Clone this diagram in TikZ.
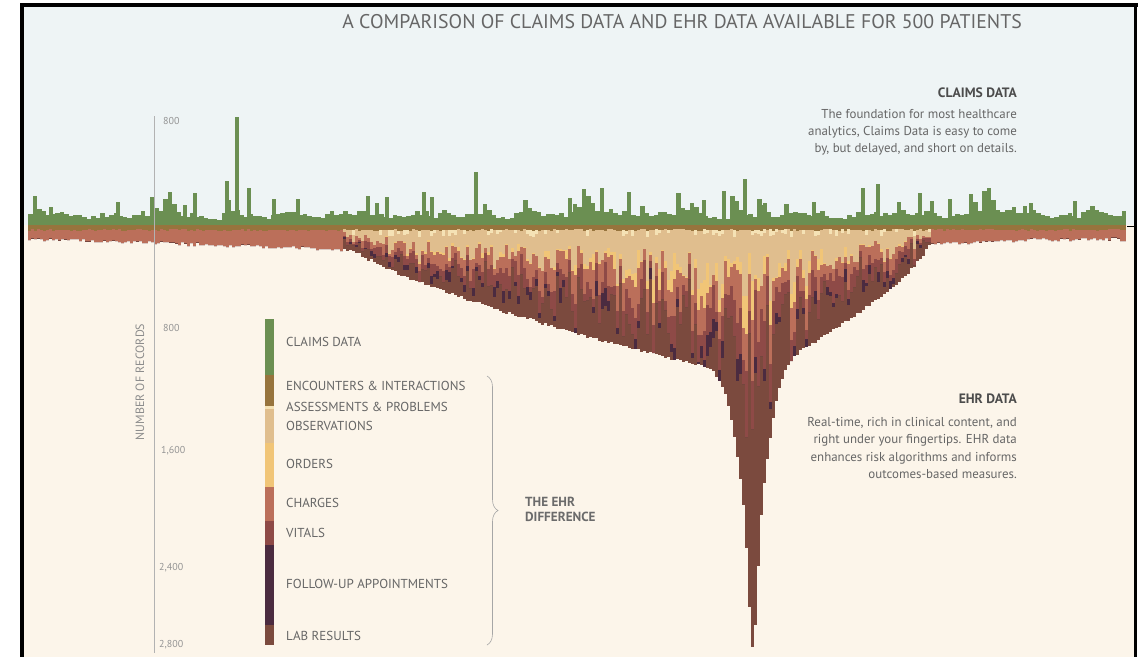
\documentclass[tikz,border=0pt]{standalone}
\usepackage{fontspec}
\setmainfont{PT Sans}
\usetikzlibrary{decorations.pathreplacing}

\definecolor{skybg}{HTML}{EEF4F5}
\definecolor{creambg}{HTML}{FCF5EA}
\definecolor{claims}{HTML}{6B8F52}
\definecolor{encounter}{HTML}{97743D}
\definecolor{assess}{HTML}{F5E2B5}
\definecolor{observ}{HTML}{E0BE8E}
\definecolor{orders}{HTML}{F1C577}
\definecolor{charges}{HTML}{BB6F5A}
\definecolor{vitals}{HTML}{8E4A47}
\definecolor{followup}{HTML}{4B2B40}
\definecolor{labres}{HTML}{7B4A3E}

\tikzset{
  titletext/.style={anchor=east, inner sep=0pt, text=black!60, font=\fontsize{19.8}{22}\selectfont},
  headtext/.style={anchor=base east, inner sep=0pt, text=black!70, font=\bfseries\fontsize{13.6}{15}\selectfont},
  blurbtext/.style={anchor=base east, inner sep=0pt, text=black!60, font=\fontsize{12.9}{15}\selectfont},
  legtext/.style={anchor=west, inner sep=0pt, text=black!60, font=\fontsize{13}{15}\selectfont},
  ehrtext/.style={anchor=west, inner sep=0pt, text=black!58, font=\bfseries\fontsize{13.2}{15}\selectfont},
  ticktext/.style={anchor=west, inner sep=0pt, text=black!42, font=\fontsize{10}{11}\selectfont},
  axistext/.style={inner sep=0pt, rotate=90, text=black!45, font=\fontsize{12}{13}\selectfont},
}

\begin{document}
\begin{tikzpicture}[x=1pt,y=-1pt]
  \useasboundingbox (0,0) rectangle (1138,657);
  \fill[white] (0,0) rectangle (1138,657);
  \fill[skybg]   (23,6) rectangle (1134,225);
  \fill[creambg] (23,225) rectangle (1134,657);

  % claims bars
  \pgfmathsetseed{11}
  \gdef\gprev{10}
  \foreach \i in {0,...,243}{
    \pgfmathsetmacro{\gh}{0.45*\gprev+0.55*(5+13*rnd^1.5)+(rnd<0.06)*(8+16*rnd)}
    \fill[claims] ({28+4.5*\i},225) rectangle ({32.6+4.5*\i},{225-\gh});
    \global\let\gprev\gh
  }
  \foreach \sx/\st in {51/207,118/202,185/205,195/193,227/181,237/117,249/188,274/199,298/199,
                       368/196,377/203,387/197,424/192,432/197,476/172,570/198,602/188,629/192,
                       704/200,724/191,745/179,765/203,814/202,863/188,878/184,920/193,932/201,
                       950/199,1014/207,1031/203,1075/201}
    \fill[claims] (\sx-2.3,225) rectangle (\sx+2.3,\st);

  % ehr columns
  \foreach \i in {0,...,365}{
    \pgfmathsetmacro{\xl}{28+3*\i}
    \pgfmathsetmacro{\xr}{\xl+3.05}
    \pgfmathsetmacro{\xm}{\xl+1.5}
    \pgfmathsetmacro{\uf}{\xm<752 ? (752-\xm)/410 : (\xm-752)/180}
    \pgfmathsetmacro{\isf}{\uf<1 ? 1 : 0}
    \pgfmathsetmacro{\fw}{max(1-\uf,0)}
    \pgfmathsetmacro{\fl}{\xm<752 ? 12+0.035*(\xm-30) : max(9,17-0.045*(\xm-950))}
    \pgfmathsetmacro{\dx}{min(abs(\xm-753),200)}
    \pgfmathsetmacro{\brd}{max(\fl,12+140*max(\fw,0.001)^0.7)+3*rnd}
    \pgfmathsetmacro{\spk}{120*exp(0-min((\dx/6)^2,9))+150*exp(0-min((\dx/20)^2,9))}
    \pgfmathsetmacro{\ybot}{225+\brd+\spk}
    \pgfmathsetmacro{\rb}{\brd-5}
    \pgfmathsetmacro{\ya}{229+2*rnd}
    \pgfmathsetmacro{\yp}{min(\ya+\isf*(rnd<0.3)*(2+5*rnd),\ybot)}
    \pgfmathsetmacro{\yt}{min(\yp+\rb*\isf*(0.16+0.32*rnd^1.5),\ybot)}
    \pgfmathsetmacro{\yo}{min(\yt+\rb*\isf*0.25*rnd^2*\fw+\isf*(\dx<14)*(rnd<0.5)*70*rnd,\ybot)}
    \pgfmathsetmacro{\yc}{min(\yo+\rb*(\isf*(0.05+0.25*rnd)+1-\isf)+\spk*0.15*rnd,\ybot)}
    \pgfmathsetmacro{\yv}{min(\yc+\isf*(\rb*(0.05+0.22*rnd)+\spk*0.3*rnd),\ybot)}
    \pgfmathsetmacro{\yf}{min(\yv+\isf*(rnd<0.5)*(0.03+0.13*rnd)*(\rb+0.5*\spk),\ybot)}
    \fill[labres]    (\xl,225) rectangle (\xr,\ybot);
    \fill[encounter] (\xl,225) rectangle (\xr,\ya);
    \fill[assess]    (\xl,\ya) rectangle (\xr,\yp);
    \fill[observ]    (\xl,\yp) rectangle (\xr,\yt);
    \fill[orders]    (\xl,\yt) rectangle (\xr,\yo);
    \fill[charges]   (\xl,\yo) rectangle (\xr,\yc);
    \fill[vitals]    (\xl,\yc) rectangle (\xr,\yv);
    \fill[followup]  (\xl,\yv) rectangle (\xr,\yf);
  }

  % frame
  \fill[black] (19.5,3) rectangle (1138,6.5);
  \fill[black] (19.5,3) rectangle (23.5,657);
  \fill[black] (1133.5,3) rectangle (1137,657);
  \draw[black, line width=1pt] (1127,226) -- (1134,226);

  % axis
  \draw[black!30, line width=0.6pt] (154,116) -- (154,653);
  \node[ticktext] (t800a) at (163,121) {800};
  \node[ticktext] (t800b) at (163,328) {800};
  \node[ticktext] (t1600) at (161,451) {1,600};
  \node[ticktext] (t2400) at (159,568) {2,400};
  \node[ticktext] (t2800) at (159,645) {2,800};
  \node[axistext] (records) at (140,382) {NUMBER OF RECORDS};

  % legend
  \foreach \ya/\yb/\col in {319/375/claims,375/406/encounter,406/409/assess,409/443/observ,443/487/orders,
                            487/521/charges,521/545/vitals,545/625/followup,625/645/labres}
    \fill[\col] (265,\ya) rectangle (274,\yb);
  \foreach \ly/\lt [count=\k] in {342/CLAIMS DATA,386/ENCOUNTERS \& INTERACTIONS,407/ASSESSMENTS \& PROBLEMS,
                                  426/OBSERVATIONS,464/ORDERS,503/CHARGES,533/VITALS,
                                  584/FOLLOW-UP APPOINTMENTS,636/LAB RESULTS}
    \node[legtext] (leg\k) at (286,\ly) {\lt};
  \draw[black!35, line width=0.6pt, decorate, decoration={brace, amplitude=11pt}] (487,376) -- (487,645);
  \node[ehrtext] (ehr1) at (525,502) {THE EHR};
  \node[ehrtext] (ehr2) at (525,517) {DIFFERENCE};

  % texts
  \node[titletext] (title) at (1022,22) {A COMPARISON OF CLAIMS DATA AND EHR DATA AVAILABLE FOR 500 PATIENTS};
  \node[headtext] (claimshead) at (1017,97) {CLAIMS DATA};
  \foreach \t [count=\k] in {The foundation for most healthcare,{analytics, Claims Data is easy to come},
                             {by, but delayed, and short on details.}}
    \node[blurbtext] (claimsline\k) at (1017,{118+17*(\k-1)}) {\t};
  \node[headtext] (ehrhead) at (1017,403) {EHR DATA};
  \foreach \t [count=\k] in {{Real-time, rich in clinical content, and},{right under your fingertips. EHR data},
                             enhances risk algorithms and informs,outcomes-based measures.}
    \node[blurbtext] (ehrline\k) at (1017,{426+17.6*(\k-1)}) {\t};
\end{tikzpicture}
\end{document}
